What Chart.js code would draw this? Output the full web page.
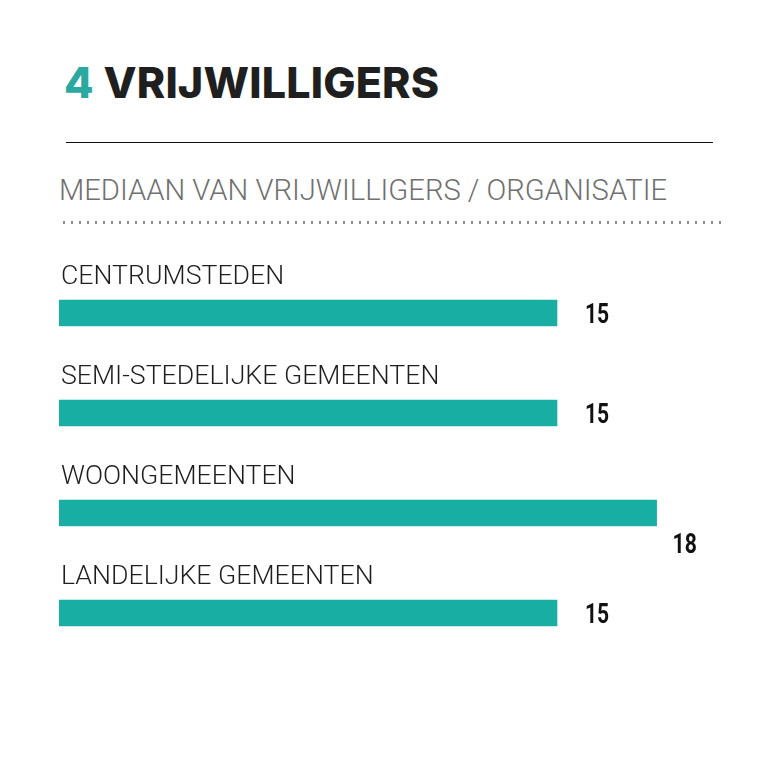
<!DOCTYPE html>
<html>
<head>
<meta charset="utf-8">
<script src="https://cdn.jsdelivr.net/npm/chart.js@4"></script>
<style>
    html, body { margin: 0; padding: 0; background: #fff; }
    body { width: 776px; height: 776px; position: relative; overflow: hidden; }
    .title {
        position: absolute; left: 64px; top: 53px; margin: 0;
        font: 800 43px Inter, "Noto Sans", sans-serif; color: #1f1f1f; line-height: 58px;
        letter-spacing: 0.2px;
    }
    .title .num { color: #2aa9a1; }
    .rule { position: absolute; left: 66px; top: 142px; width: 647px; height: 0; border-top: 1.5px solid #111; }
    .subtitle {
        position: absolute; left: 59px; top: 170px; margin: 0;
        font: 300 29.2px Roboto, sans-serif; color: #707070; line-height: 40px; white-space: nowrap;
    }
    .dots {
        position: absolute; left: 60px; top: 221px; width: 666px; height: 3px;
        background-image: radial-gradient(circle, #8a8a8a 1.1px, transparent 1.4px);
        background-size: 8px 3px; background-repeat: repeat-x;
    }
    #chartWrap { position: absolute; left: 0; top: 230px; width: 776px; height: 450px; }
</style>
</head>
<body>
<h1 class="title"><span class="num">4</span> VRIJWILLIGERS</h1>
<div class="rule"></div>
<div class="subtitle">MEDIAAN VAN VRIJWILLIGERS / ORGANISATIE</div>
<div class="dots"></div>
<div id="chartWrap"><canvas id="volunteerChart"></canvas></div>

<script>
'use strict';

// 类别与数值
const categories = ['CENTRUMSTEDEN', 'SEMI-STEDELIJKE GEMEENTEN', 'WOONGEMEENTEN', 'LANDELIJKE GEMEENTEN'];
const medianValues = [15, 15, 18, 15];

const TEAL = '#19aea4';

// 在柱子上方画类别名, 在柱子右侧画数值
const labelPlugin = {
    id: 'barLabels',
    afterDatasetsDraw(chart) {
        const ctx = chart.ctx;
        const meta = chart.getDatasetMeta(0);
        const maxVal = Math.max(...medianValues);
        meta.data.forEach((bar, i) => {
            const top = bar.y - bar.height / 2;
            // 类别名
            ctx.save();
            ctx.font = '300 26.7px Roboto, sans-serif';
            ctx.fillStyle = '#1e1e1e';
            ctx.textAlign = 'left';
            ctx.textBaseline = 'alphabetic';
            ctx.fillText(categories[i], bar.base + 2, top - 16);
            ctx.restore();

            // 数值 (最大值放在柱子下方), 横向压缩模拟窄体字
            const below = medianValues[i] === maxVal;
            const x = bar.x + (below ? 16 : 28);
            const y = bar.y + (below ? 33 : 3);
            ctx.save();
            ctx.translate(x, y);
            ctx.scale(0.78, 1);
            ctx.font = 'bold 27px Roboto, sans-serif';
            ctx.fillStyle = '#111';
            ctx.textAlign = 'left';
            ctx.textBaseline = 'middle';
            ctx.fillText(String(medianValues[i]), 0, 0);
            ctx.restore();
        });
    }
};

new Chart(document.getElementById('volunteerChart'), {
    type: 'bar',
    data: {
        labels: categories,
        datasets: [{
            data: medianValues,
            backgroundColor: TEAL,
            borderWidth: 0,
            barThickness: 26
        }]
    },
    options: {
        indexAxis: 'y',
        responsive: true,
        maintainAspectRatio: false,
        animation: false,
        events: [],
        layout: { padding: { left: 59, right: 53, top: 33, bottom: 17 } },
        plugins: {
            legend: { display: false },
            tooltip: { enabled: false }
        },
        scales: {
            x: { display: false, min: 0, max: 20 },
            y: { display: false }
        }
    },
    plugins: [labelPlugin]
});
</script>
</body>
</html>
